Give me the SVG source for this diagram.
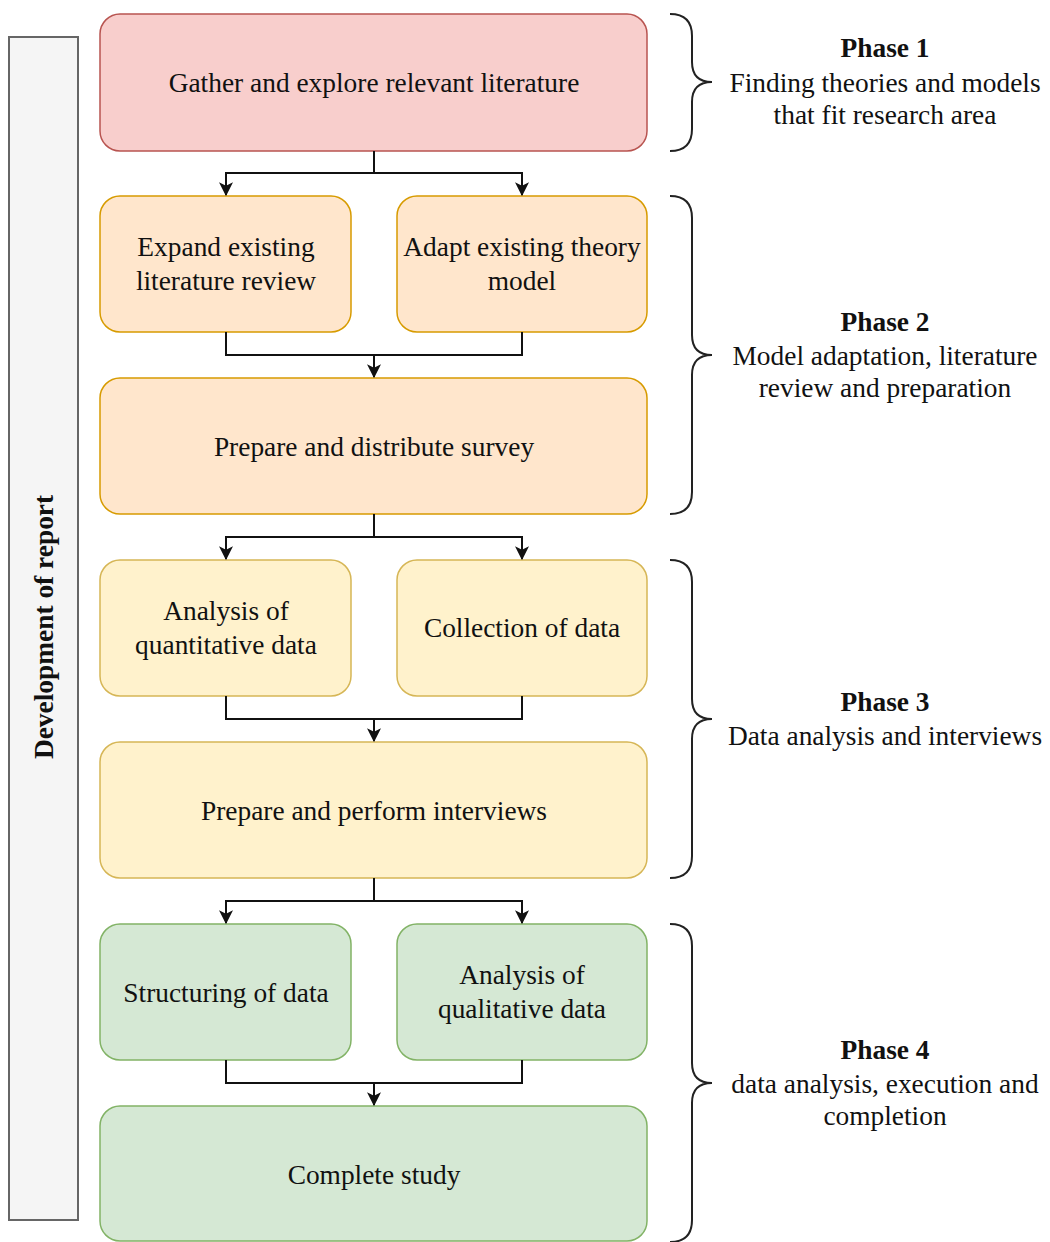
<svg xmlns="http://www.w3.org/2000/svg" width="1050" height="1242" viewBox="0 0 1050 1242">
  <style>
    .txt { font-family: "Liberation Serif", "Times New Roman", serif; font-size: 27.4px; fill: #111; text-anchor: middle; }
    .bold { font-weight: bold; }
    .red { fill: #f8cecc; stroke: #b85450; stroke-width: 1.5; }
    .orange { fill: #ffe6cc; stroke: #d79b00; stroke-width: 1.5; }
    .yellow { fill: #fff2cc; stroke: #d6b656; stroke-width: 1.5; }
    .green { fill: #d5e8d4; stroke: #82b366; stroke-width: 1.5; }
    .edge { fill: none; stroke: #111; stroke-width: 2; }
    .brace { fill: none; stroke: #222; stroke-width: 2; }
  </style>
  <defs>
    <marker id="arrow" viewBox="0 0 12 12" refX="11" refY="6" markerWidth="7" markerHeight="7" markerUnits="strokeWidth" orient="auto">
      <path d="M0,0 L12,6 L0,12 L3,6 Z" fill="#111"/>
    </marker>
  </defs>

  <rect width="1050" height="1242" fill="#fff"/>

  <!-- side bar -->
  <g id="sidebar">
    <rect x="9" y="37" width="69" height="1183" fill="#f5f5f5" stroke="#666" stroke-width="2"/>
    <text class="txt bold" transform="translate(53 627) rotate(-90)">Development of report</text>
  </g>

  <!-- phase 1 -->
  <g id="gather">
    <rect class="red" x="100" y="14" width="547" height="137" rx="20"/>
    <text class="txt" x="374" y="92">Gather and explore relevant literature</text>
  </g>

  <!-- phase 2 -->
  <g id="expand">
    <rect class="orange" x="100" y="196" width="251" height="136" rx="20"/>
    <text class="txt" x="226" y="256">Expand existing</text>
    <text class="txt" x="226" y="290">literature review</text>
  </g>
  <g id="adapt">
    <rect class="orange" x="397" y="196" width="250" height="136" rx="20"/>
    <text class="txt" x="522" y="256">Adapt existing theory</text>
    <text class="txt" x="522" y="290">model</text>
  </g>
  <g id="survey">
    <rect class="orange" x="100" y="378" width="547" height="136" rx="20"/>
    <text class="txt" x="374" y="456">Prepare and distribute survey</text>
  </g>

  <!-- phase 3 -->
  <g id="quantitative">
    <rect class="yellow" x="100" y="560" width="251" height="136" rx="20"/>
    <text class="txt" x="226" y="620">Analysis of</text>
    <text class="txt" x="226" y="654">quantitative data</text>
  </g>
  <g id="collection">
    <rect class="yellow" x="397" y="560" width="250" height="136" rx="20"/>
    <text class="txt" x="522" y="637">Collection of data</text>
  </g>
  <g id="interviews">
    <rect class="yellow" x="100" y="742" width="547" height="136" rx="20"/>
    <text class="txt" x="374" y="820">Prepare and perform interviews</text>
  </g>

  <!-- phase 4 -->
  <g id="structuring">
    <rect class="green" x="100" y="924" width="251" height="136" rx="20"/>
    <text class="txt" x="226" y="1002">Structuring of data</text>
  </g>
  <g id="qualitative">
    <rect class="green" x="397" y="924" width="250" height="136" rx="20"/>
    <text class="txt" x="522" y="984">Analysis of</text>
    <text class="txt" x="522" y="1018">qualitative data</text>
  </g>
  <g id="complete">
    <rect class="green" x="100" y="1106" width="547" height="135" rx="20"/>
    <text class="txt" x="374" y="1184">Complete study</text>
  </g>

  <!-- connectors -->
  <g id="connectors">
    <path class="edge" d="M374,151 V173 H226 V195" marker-end="url(#arrow)"/>
    <path class="edge" d="M374,173 H522 V195" marker-end="url(#arrow)"/>
    <path class="edge" d="M226,332 V355 H522 V332"/>
    <path class="edge" d="M374,355 V377" marker-end="url(#arrow)"/>

    <path class="edge" d="M374,514 V537 H226 V559" marker-end="url(#arrow)"/>
    <path class="edge" d="M374,537 H522 V559" marker-end="url(#arrow)"/>
    <path class="edge" d="M226,696 V719 H522 V696"/>
    <path class="edge" d="M374,719 V741" marker-end="url(#arrow)"/>

    <path class="edge" d="M374,878 V901 H226 V923" marker-end="url(#arrow)"/>
    <path class="edge" d="M374,901 H522 V923" marker-end="url(#arrow)"/>
    <path class="edge" d="M226,1060 V1083 H522 V1060"/>
    <path class="edge" d="M374,1083 V1105" marker-end="url(#arrow)"/>
  </g>

  <!-- phase braces and labels -->
  <g id="phase1">
    <path class="brace" d="M670,14 Q692,14 692,36 V62 Q692,82 712,82 Q692,82 692,102 V129 Q692,151 670,151"/>
    <text class="txt bold" x="885" y="57">Phase 1</text>
    <text class="txt" x="885" y="92">Finding theories and models</text>
    <text class="txt" x="885" y="124">that fit research area</text>
  </g>
  <g id="phase2">
    <path class="brace" d="M670,196 Q692,196 692,218 V335 Q692,355 712,355 Q692,355 692,375 V492 Q692,514 670,514"/>
    <text class="txt bold" x="885" y="331">Phase 2</text>
    <text class="txt" x="885" y="365">Model adaptation, literature</text>
    <text class="txt" x="885" y="397">review and preparation</text>
  </g>
  <g id="phase3">
    <path class="brace" d="M670,560 Q692,560 692,582 V699 Q692,719 712,719 Q692,719 692,739 V856 Q692,878 670,878"/>
    <text class="txt bold" x="885" y="711">Phase 3</text>
    <text class="txt" x="885" y="745">Data analysis and interviews</text>
  </g>
  <g id="phase4">
    <path class="brace" d="M670,924 Q692,924 692,946 V1063 Q692,1083 712,1083 Q692,1083 692,1103 V1220 Q692,1242 670,1242"/>
    <text class="txt bold" x="885" y="1059">Phase 4</text>
    <text class="txt" x="885" y="1093">data analysis, execution and</text>
    <text class="txt" x="885" y="1125">completion</text>
  </g>
</svg>
